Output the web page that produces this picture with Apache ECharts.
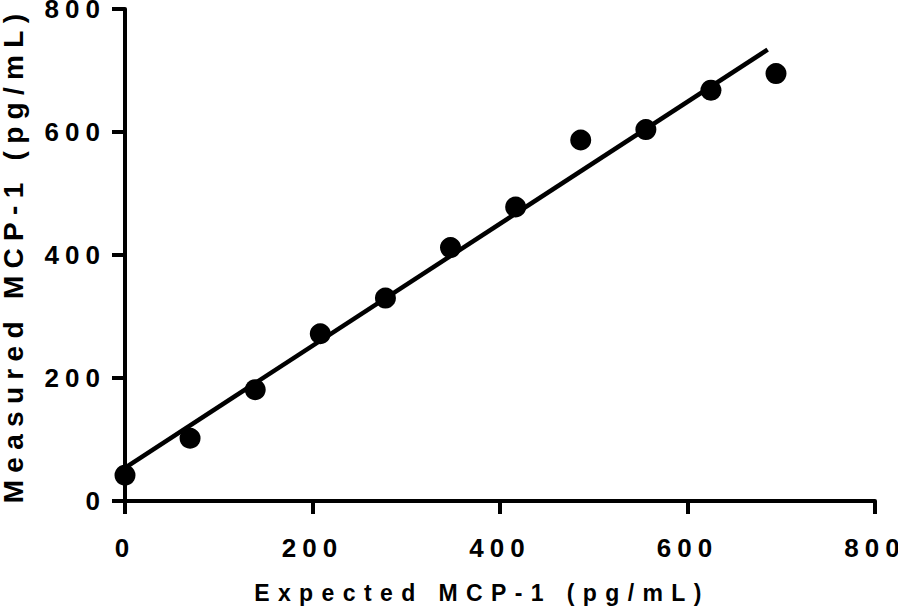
<!DOCTYPE html>
<html>
<head>
<meta charset="utf-8">
<script src="https://cdn.jsdelivr.net/npm/echarts@6/dist/echarts.min.js"></script>
<style>
  html, body { margin: 0; padding: 0; background: #fff; }
  #chart { width: 898px; height: 616px; }
  #chart text[style*="26px"] { letter-spacing: 6px; }
  #chart text[style*="23px"] { letter-spacing: 8.4px; }
  #chart text[style*="28px"] { letter-spacing: 7.3px; }
</style>
</head>
<body>
<div id="chart"></div>
<script>
const expected = [0, 69.4, 138.9, 208.3, 277.8, 347.2, 416.7, 486.1, 555.6, 625, 694.4];
const measured = [42, 102, 181, 272, 330, 412, 478, 587, 604, 668, 695];
const fitX = [0, 685.5];
const fitY = [54, 734];
const xTicks = [0, 200, 400, 600, 800];
const yTicks = [0, 200, 400, 600, 800];
const xTitle = 'Expected MCP-1 (pg/mL)';
const yTitle = 'Measured MCP-1 (pg/mL)';

const chart = echarts.init(document.getElementById('chart'), null, { renderer: 'svg' });
const font = 'Liberation Sans';
const axisCommon = {
  splitLine: { show: false },
  axisLine: { show: true, lineStyle: { color: '#000', width: 4 } },
  axisTick: { show: true, inside: false, length: 13, lineStyle: { color: '#000', width: 4 } }
};
chart.setOption({
  animation: false,
  backgroundColor: '#fff',
  grid: { left: 125, right: 23, top: 9, bottom: 115, containLabel: false, outerBoundsMode: 'none' },
  xAxis: Object.assign({}, axisCommon, {
    type: 'value',
    min: xTicks[0], max: xTicks[xTicks.length - 1], interval: xTicks[1] - xTicks[0],
    name: xTitle, nameLocation: 'middle', nameGap: 80,
    nameTextStyle: { fontFamily: font, fontWeight: 'bold', fontSize: 23, color: '#000', padding: [0, 36, 0, 0] },
    axisLabel: { margin: 34, fontFamily: font, fontWeight: 'bold', fontSize: 26, color: '#000' }
  }),
  yAxis: Object.assign({}, axisCommon, {
    type: 'value',
    min: yTicks[0], max: yTicks[yTicks.length - 1], interval: yTicks[1] - yTicks[0],
    name: yTitle, nameLocation: 'middle', nameGap: 98,
    nameTextStyle: { fontFamily: font, fontWeight: 'bold', fontSize: 28, color: '#000' },
    axisLabel: { margin: 19, fontFamily: font, fontWeight: 'bold', fontSize: 26, color: '#000' }
  }),
  series: [
    {
      type: 'line',
      data: fitX.map((x, i) => [x, fitY[i]]),
      showSymbol: false, symbol: 'none',
      lineStyle: { color: '#000', width: 4.5 },
      z: 2
    },
    {
      type: 'scatter',
      data: expected.map((x, i) => [x, measured[i]]),
      symbol: 'circle', symbolSize: 21,
      itemStyle: { color: '#000', opacity: 1 },
      z: 3
    }
  ]
});
</script>
</body>
</html>
